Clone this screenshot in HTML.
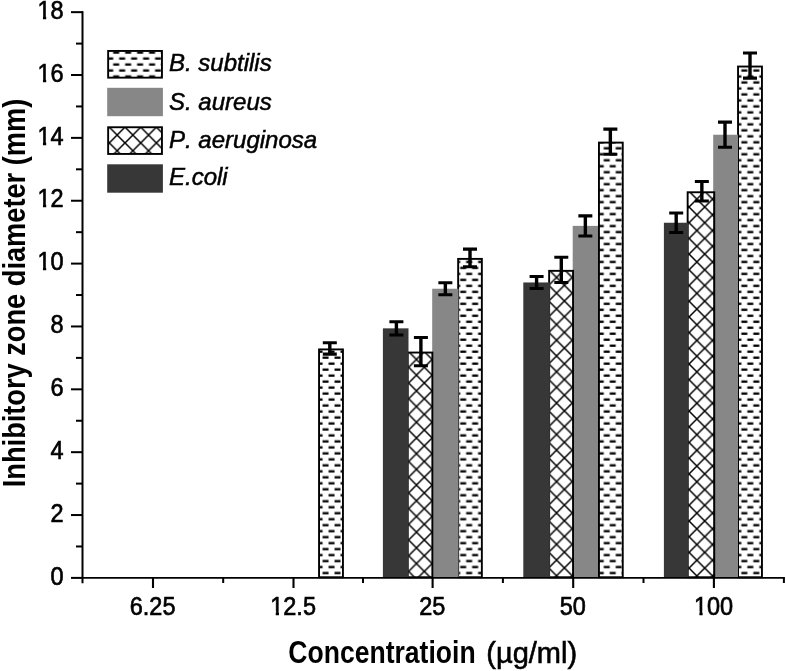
<!DOCTYPE html>
<html><head><meta charset="utf-8"><style>
html,body{margin:0;padding:0;background:#fff;}
svg{display:block;filter:grayscale(1);font-family:"Liberation Sans",sans-serif;font-kerning:none;}
</style></head><body>
<svg width="786" height="671" viewBox="0 0 786 671">
<defs>
<pattern id="dash" patternUnits="userSpaceOnUse" x="0" y="0" width="11.965" height="11.965">
<rect x="5.5" y="3.55" width="6.0" height="2.3" fill="#000"/>
<rect x="-0.48" y="9.53" width="6.0" height="2.3" fill="#000"/>
<rect x="11.48" y="9.53" width="6.0" height="2.3" fill="#000"/>
</pattern>
<pattern id="xh0" patternUnits="userSpaceOnUse" x="0.4" y="6.2" width="15.7" height="15.7">
<path d="M-1 -1L16.7 16.7M16.7 -1L-1 16.7" stroke="#000" stroke-width="1.5" fill="none"/>
</pattern>
<pattern id="xh1" patternUnits="userSpaceOnUse" x="14.9" y="2.7" width="15.7" height="15.7">
<path d="M-1 -1L16.7 16.7M16.7 -1L-1 16.7" stroke="#000" stroke-width="1.5" fill="none"/>
</pattern>
<pattern id="xh2" patternUnits="userSpaceOnUse" x="13.9" y="2.9" width="15.7" height="15.7">
<path d="M-1 -1L16.7 16.7M16.7 -1L-1 16.7" stroke="#000" stroke-width="1.5" fill="none"/>
</pattern>
<pattern id="xhL" patternUnits="userSpaceOnUse" x="15.1" y="1.6" width="15.7" height="15.7">
<path d="M-1 -1L16.7 16.7M16.7 -1L-1 16.7" stroke="#000" stroke-width="1.5" fill="none"/>
</pattern>
</defs>
<rect width="786" height="671" fill="#fff"/>
<rect x="319.05" y="349.41" width="23.9" height="227.84" fill="url(#dash)" stroke="#000" stroke-width="1.9"/>
<rect x="458.15" y="258.89" width="23.7" height="318.36" fill="url(#dash)" stroke="#000" stroke-width="1.9"/>
<rect x="598.95" y="142.6" width="23.8" height="434.65" fill="url(#dash)" stroke="#000" stroke-width="1.9"/>
<rect x="738.05" y="66.54" width="23.9" height="510.71" fill="url(#dash)" stroke="#000" stroke-width="1.9"/>
<rect x="432.2" y="288.74" width="26.3" height="289.16" fill="#878787"/>
<rect x="572.7" y="225.88" width="25.3" height="352.02" fill="#878787"/>
<rect x="713.2" y="134.74" width="24.8" height="443.16" fill="#878787"/>
<rect x="407.65" y="352.55" width="24.7" height="224.7" fill="url(#xh0)" stroke="#000" stroke-width="1.9"/>
<rect x="549.15" y="270.84" width="23.9" height="306.41" fill="url(#xh1)" stroke="#000" stroke-width="1.9"/>
<rect x="687.65" y="192.26" width="26.6" height="384.99" fill="url(#xh2)" stroke="#000" stroke-width="1.9"/>
<rect x="382.9" y="328.35" width="25.6" height="249.55" fill="#373737"/>
<rect x="523.3" y="282.46" width="26.6" height="295.44" fill="#373737"/>
<rect x="663.9" y="222.74" width="24.6" height="355.16" fill="#373737"/>
<path d="M82.5 11.2V583.3" stroke="#000" stroke-width="2"/>
<path d="M82 577.9H784.9" stroke="#000" stroke-width="1.9"/>
<path d="M71 577.9H83" stroke="#000" stroke-width="2"/>
<path d="M76 546.47H83" stroke="#000" stroke-width="2"/>
<path d="M71 515.04H83" stroke="#000" stroke-width="2"/>
<path d="M76 483.61H83" stroke="#000" stroke-width="2"/>
<path d="M71 452.18H83" stroke="#000" stroke-width="2"/>
<path d="M76 420.75H83" stroke="#000" stroke-width="2"/>
<path d="M71 389.32H83" stroke="#000" stroke-width="2"/>
<path d="M76 357.89H83" stroke="#000" stroke-width="2"/>
<path d="M71 326.46H83" stroke="#000" stroke-width="2"/>
<path d="M76 295.03H83" stroke="#000" stroke-width="2"/>
<path d="M71 263.6H83" stroke="#000" stroke-width="2"/>
<path d="M76 232.17H83" stroke="#000" stroke-width="2"/>
<path d="M71 200.74H83" stroke="#000" stroke-width="2"/>
<path d="M76 169.31H83" stroke="#000" stroke-width="2"/>
<path d="M71 137.88H83" stroke="#000" stroke-width="2"/>
<path d="M76 106.45H83" stroke="#000" stroke-width="2"/>
<path d="M71 75.02H83" stroke="#000" stroke-width="2"/>
<path d="M76 43.59H83" stroke="#000" stroke-width="2"/>
<path d="M71 12.16H83" stroke="#000" stroke-width="2"/>
<path d="M153 577.9V588" stroke="#000" stroke-width="2.1"/>
<path d="M293.5 577.9V588" stroke="#000" stroke-width="2.1"/>
<path d="M432.6 577.9V588" stroke="#000" stroke-width="2.1"/>
<path d="M573.2 577.9V588" stroke="#000" stroke-width="2.1"/>
<path d="M713.9 577.9V588" stroke="#000" stroke-width="2.1"/>
<path d="M223.2 577.9V583" stroke="#000" stroke-width="2"/>
<path d="M363 577.9V583" stroke="#000" stroke-width="2"/>
<path d="M502.9 577.9V583" stroke="#000" stroke-width="2"/>
<path d="M643.5 577.9V583" stroke="#000" stroke-width="2"/>
<path d="M783.9 577.9V583" stroke="#000" stroke-width="2"/>
<path d="M329.8 342.8V354.12" stroke="#000" stroke-width="3.4"/>
<path d="M322.8 342.8H336.8M322.8 354.12H336.8" stroke="#000" stroke-width="3.1"/>
<path d="M396.4 321.75V334.95" stroke="#000" stroke-width="3.4"/>
<path d="M389.4 321.75H403.4M389.4 334.95H403.4" stroke="#000" stroke-width="3.1"/>
<path d="M420.9 337.46V365.75" stroke="#000" stroke-width="3.4"/>
<path d="M413.9 337.46H427.9M413.9 365.75H427.9" stroke="#000" stroke-width="3.1"/>
<path d="M445.35 282.77V294.72" stroke="#000" stroke-width="3.4"/>
<path d="M438.35 282.77H452.35M438.35 294.72H452.35" stroke="#000" stroke-width="3.1"/>
<path d="M470 249.14V266.74" stroke="#000" stroke-width="3.4"/>
<path d="M463 249.14H477M463 266.74H477" stroke="#000" stroke-width="3.1"/>
<path d="M536.6 276.49V288.43" stroke="#000" stroke-width="3.4"/>
<path d="M529.6 276.49H543.6M529.6 288.43H543.6" stroke="#000" stroke-width="3.1"/>
<path d="M561.3 257.31V282.46" stroke="#000" stroke-width="3.4"/>
<path d="M554.3 257.31H568.3M554.3 282.46H568.3" stroke="#000" stroke-width="3.1"/>
<path d="M585.35 215.83V235.94" stroke="#000" stroke-width="3.4"/>
<path d="M578.35 215.83H592.35M578.35 235.94H592.35" stroke="#000" stroke-width="3.1"/>
<path d="M610.35 129.08V154.22" stroke="#000" stroke-width="3.4"/>
<path d="M603.35 129.08H617.35M603.35 154.22H617.35" stroke="#000" stroke-width="3.1"/>
<path d="M676.2 213V232.48" stroke="#000" stroke-width="3.4"/>
<path d="M669.2 213H683.2M669.2 232.48H683.2" stroke="#000" stroke-width="3.1"/>
<path d="M701.85 181.57V201.05" stroke="#000" stroke-width="3.4"/>
<path d="M694.85 181.57H708.85M694.85 201.05H708.85" stroke="#000" stroke-width="3.1"/>
<path d="M725 122.16V147.31" stroke="#000" stroke-width="3.4"/>
<path d="M718 122.16H732M718 147.31H732" stroke="#000" stroke-width="3.1"/>
<path d="M750 53.02V78.16" stroke="#000" stroke-width="3.4"/>
<path d="M743 53.02H757M743 78.16H757" stroke="#000" stroke-width="3.1"/>
<rect x="108.15" y="50.95" width="53.8" height="26.7" fill="url(#dash)" stroke="#000" stroke-width="1.9"/>
<text x="169" y="71.4" font-size="24" font-style="italic" stroke="#000" stroke-width="0.5">B. subtilis</text>
<rect x="107.2" y="87.8" width="55.7" height="28.4" fill="#878787"/>
<text x="169" y="110.0" font-size="24" font-style="italic" stroke="#000" stroke-width="0.5">S. aureus</text>
<rect x="108.15" y="127.25" width="53.8" height="26.7" fill="url(#xhL)" stroke="#000" stroke-width="1.9"/>
<text x="169" y="147.8" font-size="24" font-style="italic" stroke="#000" stroke-width="0.5">P. aeruginosa</text>
<rect x="107.2" y="164.3" width="55.7" height="28.4" fill="#373737"/>
<text x="169" y="185.4" font-size="24" font-style="italic" stroke="#000" stroke-width="0.5">E.coli</text>
<g fill="#000">
<g transform="translate(63.6 584.6) scale(0.94 1)"><text x="-13.9" y="0" font-size="25" stroke="#000" stroke-width="0.65">0</text></g>
<g transform="translate(63.6 521.74) scale(0.94 1)"><text x="-13.9" y="0" font-size="25" stroke="#000" stroke-width="0.65">2</text></g>
<g transform="translate(63.6 458.88) scale(0.94 1)"><text x="-13.9" y="0" font-size="25" stroke="#000" stroke-width="0.65">4</text></g>
<g transform="translate(63.6 396.02) scale(0.94 1)"><text x="-13.9" y="0" font-size="25" stroke="#000" stroke-width="0.65">6</text></g>
<g transform="translate(63.6 333.16) scale(0.94 1)"><text x="-13.9" y="0" font-size="25" stroke="#000" stroke-width="0.65">8</text></g>
<g transform="translate(63.6 270.3) scale(0.94 1)"><text x="-27.81" y="0" font-size="25" stroke="#000" stroke-width="0.65">10</text><rect x="-27.51" y="-3.4" width="5.55" height="4.9" fill="#fff"/><rect x="-18.51" y="-3.4" width="4.6" height="4.9" fill="#fff"/></g>
<g transform="translate(63.6 207.44) scale(0.94 1)"><text x="-27.81" y="0" font-size="25" stroke="#000" stroke-width="0.65">12</text><rect x="-27.51" y="-3.4" width="5.55" height="4.9" fill="#fff"/><rect x="-18.51" y="-3.4" width="4.6" height="4.9" fill="#fff"/></g>
<g transform="translate(63.6 144.58) scale(0.94 1)"><text x="-27.81" y="0" font-size="25" stroke="#000" stroke-width="0.65">14</text><rect x="-27.51" y="-3.4" width="5.55" height="4.9" fill="#fff"/><rect x="-18.51" y="-3.4" width="4.6" height="4.9" fill="#fff"/></g>
<g transform="translate(63.6 81.72) scale(0.94 1)"><text x="-27.81" y="0" font-size="25" stroke="#000" stroke-width="0.65">16</text><rect x="-27.51" y="-3.4" width="5.55" height="4.9" fill="#fff"/><rect x="-18.51" y="-3.4" width="4.6" height="4.9" fill="#fff"/></g>
<g transform="translate(63.6 18.86) scale(0.94 1)"><text x="-27.81" y="0" font-size="25" stroke="#000" stroke-width="0.65">18</text><rect x="-27.51" y="-3.4" width="5.55" height="4.9" fill="#fff"/><rect x="-18.51" y="-3.4" width="4.6" height="4.9" fill="#fff"/></g>
<g transform="translate(152.6 614.5) scale(0.94 1)"><text x="-24.33" y="0" font-size="25" stroke="#000" stroke-width="0.65">6.25</text></g>
<g transform="translate(293.1 614.5) scale(0.94 1)"><text x="-24.33" y="0" font-size="25" stroke="#000" stroke-width="0.65">12.5</text><rect x="-24.03" y="-3.4" width="5.55" height="4.9" fill="#fff"/><rect x="-15.03" y="-3.4" width="4.6" height="4.9" fill="#fff"/></g>
<g transform="translate(432.2 614.5) scale(0.94 1)"><text x="-13.9" y="0" font-size="25" stroke="#000" stroke-width="0.65">25</text></g>
<g transform="translate(572.8 614.5) scale(0.94 1)"><text x="-13.9" y="0" font-size="25" stroke="#000" stroke-width="0.65">50</text></g>
<g transform="translate(713.5 614.5) scale(0.94 1)"><text x="-20.86" y="0" font-size="25" stroke="#000" stroke-width="0.65">100</text><rect x="-20.56" y="-3.4" width="5.55" height="4.9" fill="#fff"/><rect x="-11.56" y="-3.4" width="4.6" height="4.9" fill="#fff"/></g>
<text transform="translate(288.3 662.9) scale(0.843 1)" font-size="31.5" font-weight="bold">Concentratioin</text>
<text x="486.3" y="662.9" font-size="29" stroke="#000" stroke-width="0.6">(µg/ml)</text>
<text transform="translate(24.6 293) rotate(-90) scale(0.864 1)" x="0" y="0" text-anchor="middle" font-size="31.5" font-weight="bold">Inhibitory zone diameter (mm)</text>
</g>

</svg>
</body></html>
